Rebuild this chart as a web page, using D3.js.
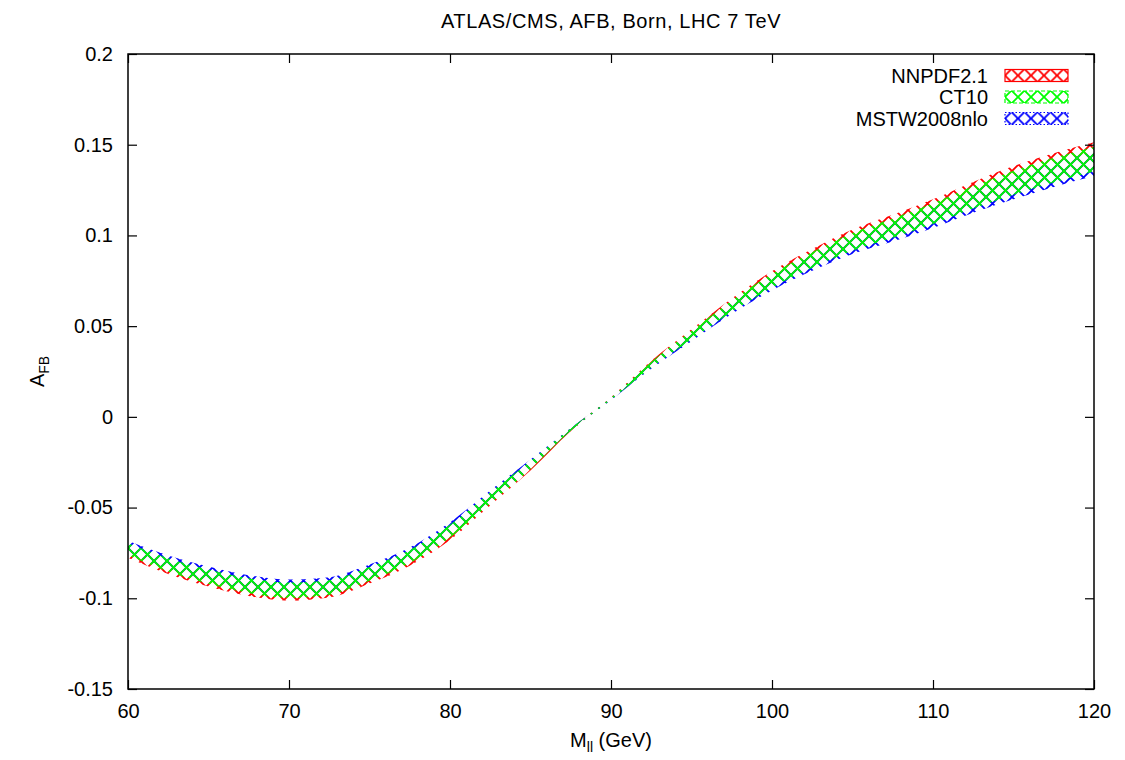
<!DOCTYPE html>
<meta charset="utf-8">
<head>
<title>AFB Born LHC 7 TeV</title>
<script src="https://d3js.org/d3.v7.min.js"></script>
<style>
body { margin: 0; background: #fff; }
text { font-family: "Liberation Sans", Arial, sans-serif; fill: #000; }
.axis path { display: none; }
.axis line { stroke: #000; stroke-width: 1.2; }
.axis text { font-size: 20px; font-family: "Liberation Sans", Arial, sans-serif; }
</style>
</head>
<body>
<script>

// dilepton mass grid (GeV)
var mass = [60, 62.5, 65, 67.5, 70, 72.5, 75, 77.5, 80, 82.5, 85, 87.5, 90,
            92.5, 95, 97.5, 100, 102.5, 105, 107.5, 110, 112.5, 115, 117.5, 120];

// NNPDF2.1 band
var nnpdfLow  = [-0.0777, -0.0866, -0.0935, -0.0987, -0.1013, -0.0996, -0.0919, -0.0821, -0.0679, -0.0488, -0.0295, -0.0079, 0.0096,
                 0.0277, 0.0436, 0.0591, 0.0727, 0.0838, 0.0935, 0.1008, 0.1085, 0.1172, 0.1249, 0.1318, 0.1378];
var nnpdfHigh = [-0.0710, -0.0793, -0.0856, -0.0905, -0.0929, -0.0915, -0.0843, -0.0748, -0.0609, -0.0429, -0.0251, -0.0065, 0.0108,
                 0.0309, 0.0483, 0.0653, 0.0803, 0.0925, 0.1033, 0.1114, 0.1199, 0.1295, 0.1382, 0.1453, 0.1513];

// CT10 band
var ct10Low  = [-0.0763, -0.0852, -0.0920, -0.0971, -0.0997, -0.0980, -0.0904, -0.0806, -0.0665, -0.0477, -0.0287, -0.0077, 0.0094,
                0.0271, 0.0426, 0.0579, 0.0712, 0.0822, 0.0916, 0.0987, 0.1063, 0.1148, 0.1224, 0.1292, 0.1352];
var ct10High = [-0.0697, -0.0779, -0.0841, -0.0889, -0.0913, -0.0900, -0.0828, -0.0734, -0.0595, -0.0417, -0.0243, -0.0063, 0.0106,
                0.0303, 0.0474, 0.0641, 0.0788, 0.0908, 0.1014, 0.1093, 0.1177, 0.1272, 0.1357, 0.1428, 0.1488];

// MSTW2008nlo band
var mstwLow  = [-0.0750, -0.0837, -0.0904, -0.0955, -0.0981, -0.0965, -0.0889, -0.0792, -0.0651, -0.0465, -0.0279, -0.0075, 0.0092,
                0.0265, 0.0417, 0.0567, 0.0697, 0.0805, 0.0897, 0.0966, 0.1041, 0.1125, 0.1199, 0.1267, 0.1327];
var mstwHigh = [-0.0683, -0.0764, -0.0825, -0.0873, -0.0897, -0.0884, -0.0814, -0.0720, -0.0581, -0.0406, -0.0235, -0.0061, 0.0104,
                0.0297, 0.0464, 0.0629, 0.0773, 0.0892, 0.0994, 0.1072, 0.1155, 0.1248, 0.1332, 0.1402, 0.1462];

var xTicks = [60, 70, 80, 90, 100, 110, 120];
var yTicks = [-0.15, -0.1, -0.05, 0, 0.05, 0.1, 0.15, 0.2];

var series = [
  {name: "NNPDF2.1",    color: "#ff0000", low: nnpdfLow, high: nnpdfHigh, dash: null},
  {name: "MSTW2008nlo", color: "#0000ff", low: mstwLow,  high: mstwHigh,  dash: "1.5,2"},
  {name: "CT10",        color: "#00ff00", low: ct10Low,  high: ct10High,  dash: "4,2"}
];
var legendOrder = ["NNPDF2.1", "CT10", "MSTW2008nlo"];

var W = 1125, H = 760;
var margin = {top: 54, right: 31, bottom: 71, left: 128},
    width = W - margin.left - margin.right,
    height = H - margin.top - margin.bottom;

var svg = d3.select("body").append("svg")
    .attr("width", W)
    .attr("height", H);

var defs = svg.append("defs");
series.forEach(function(s, i) {
  var p = defs.append("pattern")
      .attr("id", "hatch" + i)
      .attr("patternUnits", "userSpaceOnUse")
      .attr("width", 13)
      .attr("height", 13);
  p.append("path")
      .attr("d", "M0,0L13,13M13,0L0,13")
      .attr("stroke", s.color)
      .attr("stroke-width", 1.8)
      .attr("fill", "none");
});
defs.append("clipPath").attr("id", "plotclip")
  .append("rect").attr("width", width).attr("height", height);

var g = svg.append("g")
    .attr("transform", "translate(" + margin.left + "," + margin.top + ")");

var x = d3.scaleLinear().domain([60, 120]).range([0, width]);
var y = d3.scaleLinear().domain([-0.15, 0.2]).range([height, 0]);

// bands
var bands = g.append("g").attr("clip-path", "url(#plotclip)");
series.forEach(function(s, i) {
  var area = d3.area()
      .curve(d3.curveMonotoneX)
      .x(function(d, j) { return x(mass[j]); })
      .y0(function(d, j) { return y(s.low[j]); })
      .y1(function(d, j) { return y(s.high[j]); });
  bands.append("path")
      .datum(mass)
      .attr("d", area)
      .attr("fill", "url(#hatch" + i + ")");
});

// axes with mirrored inward ticks
g.append("g").attr("class", "axis")
    .attr("transform", "translate(0," + height + ")")
    .call(d3.axisBottom(x).tickValues(xTicks).tickSizeInner(-9).tickSizeOuter(0).tickPadding(15));
g.append("g").attr("class", "axis")
    .call(d3.axisTop(x).tickValues(xTicks).tickSizeInner(-9).tickSizeOuter(0).tickFormat(""));
g.append("g").attr("class", "axis")
    .call(d3.axisLeft(y).tickValues(yTicks).tickSizeInner(-9).tickSizeOuter(0).tickPadding(15)
      .tickFormat(function(d) { return String(+d.toFixed(2)); }));
g.append("g").attr("class", "axis")
    .attr("transform", "translate(" + width + ",0)")
    .call(d3.axisRight(y).tickValues(yTicks).tickSizeInner(-9).tickSizeOuter(0).tickFormat(""));

g.append("rect")
    .attr("width", width)
    .attr("height", height)
    .attr("fill", "none")
    .attr("stroke", "#000")
    .attr("stroke-width", 1.5);

// legend
var leg = g.append("g").attr("transform", "translate(" + (width - 89) + ",21.5)");
legendOrder.forEach(function(name, k) {
  var i = series.findIndex(function(s) { return s.name === name; });
  var s = series[i];
  var row = leg.append("g").attr("transform", "translate(0," + (k * 21.5) + ")");
  row.append("text")
      .attr("x", -17)
      .attr("y", 7)
      .attr("text-anchor", "end")
      .style("font-size", "20px")
      .text(name);
  row.append("rect")
      .attr("x", 0)
      .attr("y", -6)
      .attr("width", 63)
      .attr("height", 12)
      .attr("fill", "url(#hatch" + i + ")")
      .attr("stroke", s.color)
      .attr("stroke-width", 1.2)
      .attr("stroke-dasharray", s.dash);
});

// title and axis labels
svg.append("text")
    .attr("x", margin.left + width / 2)
    .attr("y", 28)
    .attr("text-anchor", "middle")
    .style("font-size", "20px")
    .style("letter-spacing", "0.6px")
    .text("ATLAS/CMS, AFB, Born, LHC 7 TeV");

var xl = svg.append("text")
    .attr("x", margin.left + width / 2)
    .attr("y", 747)
    .attr("text-anchor", "middle")
    .style("font-size", "20px");
xl.append("tspan").text("M");
xl.append("tspan").attr("dy", 5).style("font-size", "14px").text("ll");
xl.append("tspan").attr("dy", -5).text(" (GeV)");

var yl = svg.append("text")
    .attr("transform", "translate(44," + (margin.top + height / 2) + ") rotate(-90)")
    .attr("text-anchor", "middle")
    .style("font-size", "20px");
yl.append("tspan").text("A");
yl.append("tspan").attr("dy", 5).style("font-size", "14px").text("FB");

</script>
</body>
